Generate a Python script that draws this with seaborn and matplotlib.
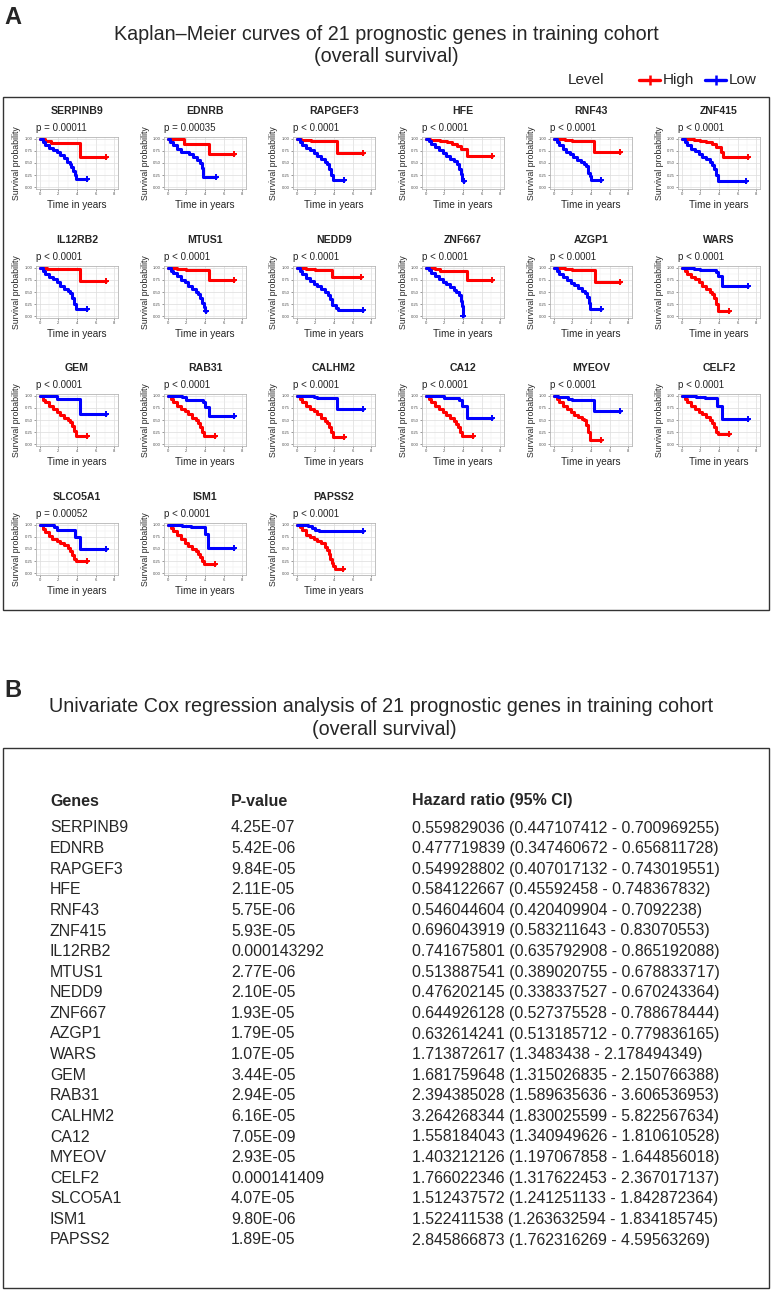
import matplotlib
matplotlib.use("Agg")
import matplotlib.pyplot as plt
import seaborn as sns
import pandas as pd
from matplotlib.lines import Line2D
from matplotlib.patches import Rectangle

# ---------------- data: panel A ----------------
genes = ["SERPINB9", "EDNRB", "RAPGEF3", "HFE", "RNF43", "ZNF415",
         "IL12RB2", "MTUS1", "NEDD9", "ZNF667", "AZGP1", "WARS",
         "GEM", "RAB31", "CALHM2", "CA12", "MYEOV", "CELF2",
         "SLCO5A1", "ISM1", "PAPSS2"]
km_pvalues = ["p = 0.00011", "p = 0.00035", "p < 0.0001", "p < 0.0001", "p < 0.0001", "p < 0.0001",
              "p < 0.0001", "p < 0.0001", "p < 0.0001", "p < 0.0001", "p < 0.0001", "p < 0.0001",
              "p < 0.0001", "p < 0.0001", "p < 0.0001", "p < 0.0001", "p < 0.0001", "p < 0.0001",
              "p = 0.00052", "p < 0.0001", "p < 0.0001"]
x_ticks = [0, 2, 4, 6, 8]
y_ticks = [0.0, 0.25, 0.5, 0.75, 1.0]
y_ticklabels = ["0.00", "0.25", "0.50", "0.75", "1.00"]

SERPINB9_high_t = [0, 0.6, 1.2, 4.35, 7.1]
SERPINB9_high_s = [1.0, 0.96, 0.92, 0.62, 0.62]
SERPINB9_low_t = [0, 0.3, 0.6, 1.0, 1.4, 1.8, 2.2, 2.6, 2.9, 3.2, 3.4, 3.6, 3.75, 3.9, 5.1]
SERPINB9_low_s = [1.0, 0.93, 0.88, 0.82, 0.77, 0.72, 0.66, 0.60, 0.53, 0.48, 0.42, 0.33, 0.25, 0.16, 0.16]

EDNRB_high_t = [0, 1.7, 4.4, 7.1]
EDNRB_high_s = [1.0, 0.90, 0.68, 0.68]
EDNRB_low_t = [0, 0.25, 0.6, 1.0, 1.4, 2.3, 2.7, 3.1, 3.5, 3.65, 3.8, 5.2]
EDNRB_low_s = [1.0, 0.93, 0.87, 0.80, 0.72, 0.68, 0.62, 0.56, 0.50, 0.40, 0.20, 0.20]

RAPGEF3_high_t = [0, 0.5, 1.5, 4.3, 7.1]
RAPGEF3_high_s = [1.0, 0.98, 0.95, 0.71, 0.71]
RAPGEF3_low_t = [0, 0.3, 0.6, 1.0, 1.4, 1.8, 2.2, 2.6, 3.0, 3.3, 3.5, 3.7, 3.85, 5.1]
RAPGEF3_low_s = [1.0, 0.93, 0.88, 0.82, 0.76, 0.70, 0.65, 0.58, 0.52, 0.47, 0.38, 0.25, 0.14, 0.14]

HFE_high_t = [0, 0.5, 1.5, 2.3, 2.8, 3.4, 3.8, 4.4, 7.1]
HFE_high_s = [1.0, 0.98, 0.96, 0.93, 0.90, 0.86, 0.80, 0.65, 0.65]
HFE_low_t = [0, 0.3, 0.6, 1.0, 1.4, 1.8, 2.2, 2.6, 3.0, 3.4, 3.6, 3.75, 3.85, 3.95, 4.1]
HFE_low_s = [1.0, 0.95, 0.90, 0.83, 0.76, 0.70, 0.64, 0.58, 0.54, 0.47, 0.38, 0.28, 0.17, 0.12, 0.12]

RNF43_high_t = [0, 1.2, 2.0, 4.3, 7.1]
RNF43_high_s = [1.0, 0.98, 0.96, 0.73, 0.73]
RNF43_low_t = [0, 0.3, 0.6, 1.0, 1.3, 1.7, 2.1, 2.5, 2.9, 3.2, 3.5, 3.7, 3.85, 3.95, 5.1]
RNF43_low_s = [1.0, 0.93, 0.87, 0.80, 0.72, 0.68, 0.63, 0.57, 0.52, 0.47, 0.43, 0.30, 0.22, 0.14, 0.14]

ZNF415_high_t = [0, 1.3, 2.0, 2.6, 3.2, 3.7, 4.2, 4.4, 7.1]
ZNF415_high_s = [1.0, 0.98, 0.96, 0.93, 0.90, 0.84, 0.72, 0.62, 0.62]
ZNF415_low_t = [0, 0.3, 0.6, 1.0, 1.4, 1.8, 2.2, 2.6, 3.0, 3.3, 3.5, 3.7, 3.85, 6.9]
ZNF415_low_s = [1.0, 0.93, 0.87, 0.80, 0.74, 0.68, 0.63, 0.58, 0.53, 0.46, 0.38, 0.25, 0.13, 0.13]

IL12RB2_high_t = [0, 0.8, 1.5, 4.3, 7.1]
IL12RB2_high_s = [1.0, 0.98, 0.97, 0.73, 0.73]
IL12RB2_low_t = [0, 0.3, 0.6, 1.0, 1.4, 1.8, 2.2, 2.6, 3.0, 3.3, 3.5, 3.7, 3.85, 5.1]
IL12RB2_low_s = [1.0, 0.93, 0.88, 0.81, 0.76, 0.70, 0.63, 0.57, 0.52, 0.47, 0.38, 0.25, 0.15, 0.15]

MTUS1_high_t = [0, 1.0, 2.0, 4.4, 7.1]
MTUS1_high_s = [1.0, 0.97, 0.95, 0.75, 0.75]
MTUS1_low_t = [0, 0.3, 0.6, 1.0, 1.4, 1.8, 2.2, 2.6, 3.0, 3.3, 3.5, 3.7, 3.85, 3.95, 4.1]
MTUS1_low_s = [1.0, 0.94, 0.90, 0.84, 0.75, 0.70, 0.63, 0.57, 0.50, 0.45, 0.38, 0.28, 0.18, 0.10, 0.10]

NEDD9_high_t = [0, 1.0, 2.0, 3.8, 6.9]
NEDD9_high_s = [1.0, 0.98, 0.96, 0.81, 0.81]
NEDD9_low_t = [0, 0.3, 0.6, 1.0, 1.4, 1.8, 2.2, 2.6, 3.0, 3.4, 3.6, 3.8, 4.2, 4.4, 7.1]
NEDD9_low_s = [1.0, 0.93, 0.87, 0.80, 0.72, 0.67, 0.62, 0.56, 0.50, 0.44, 0.35, 0.22, 0.17, 0.13, 0.13]

ZNF667_high_t = [0, 1.0, 1.5, 4.4, 7.1]
ZNF667_high_s = [1.0, 0.97, 0.94, 0.75, 0.75]
ZNF667_low_t = [0, 0.3, 0.6, 1.0, 1.4, 1.8, 2.2, 2.6, 3.0, 3.3, 3.6, 3.75, 3.85, 3.95, 4.0]
ZNF667_low_s = [1.0, 0.95, 0.90, 0.84, 0.77, 0.71, 0.66, 0.60, 0.55, 0.50, 0.44, 0.32, 0.20, 0.08, 0.0]

AZGP1_high_t = [0, 1.2, 2.0, 4.4, 7.1]
AZGP1_high_s = [1.0, 0.97, 0.95, 0.71, 0.71]
AZGP1_low_t = [0, 0.3, 0.6, 1.0, 1.4, 1.8, 2.2, 2.6, 3.0, 3.4, 3.6, 3.75, 3.85, 5.1]
AZGP1_low_s = [1.0, 0.93, 0.87, 0.81, 0.74, 0.69, 0.64, 0.58, 0.53, 0.47, 0.40, 0.28, 0.15, 0.15]

WARS_high_t = [0, 0.3, 0.6, 1.0, 1.4, 1.8, 2.2, 2.6, 3.0, 3.3, 3.5, 3.7, 3.85, 5.1]
WARS_high_s = [1.0, 0.93, 0.88, 0.82, 0.76, 0.70, 0.63, 0.57, 0.50, 0.45, 0.38, 0.25, 0.11, 0.11]
WARS_low_t = [0, 1.3, 2.0, 3.7, 3.9, 4.3, 7.1]
WARS_low_s = [1.0, 0.98, 0.95, 0.92, 0.83, 0.62, 0.62]

GEM_high_t = [0, 0.3, 0.6, 1.0, 1.4, 1.8, 2.2, 2.6, 3.0, 3.3, 3.5, 3.7, 3.85, 5.1]
GEM_high_s = [1.0, 0.92, 0.87, 0.80, 0.72, 0.66, 0.61, 0.55, 0.50, 0.45, 0.38, 0.27, 0.16, 0.16]
GEM_low_t = [0, 1.8, 4.3, 7.1]
GEM_low_s = [1.0, 0.93, 0.63, 0.63]

RAB31_high_t = [0, 0.3, 0.6, 1.0, 1.4, 1.8, 2.2, 2.6, 3.0, 3.3, 3.5, 3.7, 3.85, 5.1]
RAB31_high_s = [1.0, 0.93, 0.87, 0.80, 0.72, 0.68, 0.62, 0.55, 0.49, 0.43, 0.35, 0.25, 0.17, 0.17]
RAB31_low_t = [0, 1.5, 2.0, 3.8, 4.0, 4.4, 7.1]
RAB31_low_s = [1.0, 0.97, 0.92, 0.88, 0.77, 0.58, 0.58]

CALHM2_high_t = [0, 0.3, 0.6, 1.0, 1.4, 1.8, 2.2, 2.6, 3.0, 3.3, 3.5, 3.7, 3.85, 5.1]
CALHM2_high_s = [1.0, 0.93, 0.87, 0.80, 0.73, 0.68, 0.62, 0.55, 0.48, 0.44, 0.35, 0.25, 0.14, 0.14]
CALHM2_low_t = [0, 1.8, 2.2, 4.3, 7.1]
CALHM2_low_s = [1.0, 0.97, 0.96, 0.72, 0.72]

CA12_high_t = [0, 0.3, 0.6, 1.0, 1.4, 1.8, 2.2, 2.6, 3.0, 3.3, 3.5, 3.7, 3.85, 5.1]
CA12_high_s = [1.0, 0.93, 0.87, 0.80, 0.73, 0.66, 0.60, 0.55, 0.48, 0.42, 0.35, 0.25, 0.17, 0.17]
CA12_low_t = [0, 2.0, 3.6, 3.9, 4.4, 7.1]
CA12_low_s = [1.0, 0.96, 0.92, 0.80, 0.55, 0.55]

MYEOV_high_t = [0, 0.3, 0.6, 1.0, 1.4, 1.8, 2.2, 2.6, 3.0, 3.3, 3.5, 3.7, 3.85, 5.1]
MYEOV_high_s = [1.0, 0.93, 0.87, 0.80, 0.73, 0.67, 0.61, 0.56, 0.53, 0.50, 0.40, 0.25, 0.09, 0.09]
MYEOV_low_t = [0, 0.5, 1.5, 2.0, 4.3, 7.1]
MYEOV_low_s = [1.0, 0.97, 0.93, 0.92, 0.68, 0.68]

CELF2_high_t = [0, 0.3, 0.6, 1.0, 1.4, 1.8, 2.2, 2.6, 3.0, 3.3, 3.5, 3.7, 3.85, 5.1]
CELF2_high_s = [1.0, 0.93, 0.87, 0.80, 0.72, 0.67, 0.62, 0.56, 0.50, 0.43, 0.35, 0.25, 0.21, 0.21]
CELF2_low_t = [0, 1.5, 2.5, 3.8, 4.3, 7.1]
CELF2_low_s = [1.0, 0.98, 0.96, 0.80, 0.53, 0.53]

SLCO5A1_high_t = [0, 0.3, 0.6, 1.0, 1.3, 1.8, 2.2, 2.6, 3.0, 3.3, 3.5, 3.7, 3.85, 5.1]
SLCO5A1_high_s = [1.0, 0.92, 0.85, 0.76, 0.70, 0.67, 0.63, 0.58, 0.52, 0.45, 0.38, 0.30, 0.25, 0.25]
SLCO5A1_low_t = [0, 1.5, 1.8, 3.8, 4.3, 7.1]
SLCO5A1_low_s = [1.0, 0.95, 0.90, 0.75, 0.50, 0.50]

ISM1_high_t = [0, 0.3, 0.6, 1.0, 1.4, 1.8, 2.2, 2.6, 3.0, 3.3, 3.5, 3.7, 3.85, 5.1]
ISM1_high_s = [1.0, 0.93, 0.87, 0.80, 0.70, 0.63, 0.57, 0.50, 0.45, 0.40, 0.33, 0.25, 0.19, 0.19]
ISM1_low_t = [0, 1.5, 2.5, 3.95, 4.3, 7.1]
ISM1_low_s = [1.0, 0.98, 0.96, 0.81, 0.53, 0.53]

PAPSS2_high_t = [0, 0.3, 0.6, 1.0, 1.4, 1.8, 2.2, 2.6, 3.0, 3.3, 3.5, 3.6, 3.75, 3.9, 4.1, 5.0]
PAPSS2_high_s = [1.0, 0.95, 0.90, 0.80, 0.74, 0.70, 0.67, 0.63, 0.55, 0.48, 0.40, 0.30, 0.20, 0.14, 0.08, 0.08]
PAPSS2_low_t = [0, 1.2, 1.6, 2.0, 2.4, 7.1]
PAPSS2_low_s = [1.0, 0.98, 0.94, 0.90, 0.87, 0.87]

# ---------------- data: panel B ----------------
cox_pvalues = ["4.25E-07", "5.42E-06", "9.84E-05", "2.11E-05", "5.75E-06", "5.93E-05",
               "0.000143292", "2.77E-06", "2.10E-05", "1.93E-05", "1.79E-05", "1.07E-05",
               "3.44E-05", "2.94E-05", "6.16E-05", "7.05E-09", "2.93E-05", "0.000141409",
               "4.07E-05", "9.80E-06", "1.89E-05"]
hazard_ratio = ["0.559829036", "0.477719839", "0.549928802", "0.584122667", "0.546044604", "0.696043919",
                "0.741675801", "0.513887541", "0.476202145", "0.644926128", "0.632614241", "1.713872617",
                "1.681759648", "2.394385028", "3.264268344", "1.558184043", "1.403212126", "1.766022346",
                "1.512437572", "1.522411538", "2.845866873"]
ci_lower = ["0.447107412", "0.347460672", "0.407017132", "0.45592458", "0.420409904", "0.583211643",
            "0.635792908", "0.389020755", "0.338337527", "0.527375528", "0.513185712", "1.3483438",
            "1.315026835", "1.589635636", "1.830025599", "1.340949626", "1.197067858", "1.317622453",
            "1.241251133", "1.263632594", "1.762316269"]
ci_upper = ["0.700969255", "0.656811728", "0.743019551", "0.748367832", "0.7092238", "0.83070553",
            "0.865192088", "0.678833717", "0.670243364", "0.788678444", "0.779836165", "2.178494349",
            "2.150766388", "3.606536953", "5.822567634", "1.810610528", "1.644856018", "2.367017137",
            "1.842872364", "1.834185745", "4.59563269"]

# ---------------- figure ----------------
sns.set_theme(style="white")
plt.rcParams["font.family"] = ["Liberation Sans", "DejaVu Sans"]

W, H = 772, 1304
fig = plt.figure(figsize=(W / 100, H / 100), dpi=100)
fig.patch.set_facecolor("white")

RED, BLUE = "#FF0000", "#0000FF"


def fx(px):
    return px / W


def fy(py):
    return 1 - py / H


# panel letters and titles
fig.text(fx(4), fy(18), "A", fontsize=17, fontweight="bold", va="center", ha="left")
fig.text(fx(386), fy(35), "Kaplan\u2013Meier curves of 21 prognostic genes in training cohort",
         fontsize=14.2, ha="center", va="center")
fig.text(fx(386), fy(57), "(overall survival)", fontsize=14.2, ha="center", va="center")

# legend
fig.text(fx(568), fy(80), "Level", fontsize=11, ha="left", va="center")
for x0, col, lab in [(639, RED, "High"), (705, BLUE, "Low")]:
    fig.add_artist(Line2D([fx(x0), fx(x0 + 21)], [fy(80), fy(80)], color=col, lw=2.4,
                          transform=fig.transFigure))
    fig.add_artist(Line2D([fx(x0 + 10.5)], [fy(80)], color=col, marker="+", ms=7, mew=1.8,
                          transform=fig.transFigure))
    fig.text(fx(x0 + 24), fy(80), lab, fontsize=11, ha="left", va="center")

# frames
fig.add_artist(Rectangle((fx(3), fy(610)), fx(766), 513 / H, fill=False, ec="#333333", lw=1.0,
                         transform=fig.transFigure))
fig.add_artist(Rectangle((fx(3), fy(1288)), fx(766), 540 / H, fill=False, ec="#333333", lw=1.0,
                         transform=fig.transFigure))

col_left = [36, 164, 293, 422, 550, 678]
row_top = [137, 266, 394, 523]
AW, AH = 82, 52

for i, g in enumerate(genes):
    r, c = divmod(i, 6)
    L, T = col_left[c], row_top[r]
    ax = fig.add_axes([fx(L), fy(T + AH), AW / W, AH / H])
    ax.set_facecolor("white")
    for key, colr in [("high", RED), ("low", BLUE)]:
        t = globals()[f"{g}_{key}_t"]
        s = globals()[f"{g}_{key}_s"]
        df = pd.DataFrame({"time": t, "surv": s})
        sns.lineplot(data=df, x="time", y="surv", ax=ax, color=colr, lw=2.2,
                     drawstyle="steps-post", estimator=None, sort=False, legend=False)
        ax.plot(t[-1], s[-1], marker="+", color=colr, ms=4, mew=1.4)
    ax.set_xlim(-0.4, 8.4)
    ax.set_ylim(-0.04, 1.04)
    ax.set_xticks(x_ticks)
    ax.set_xticklabels([str(v) for v in x_ticks])
    ax.set_yticks(y_ticks)
    ax.set_yticklabels(y_ticklabels)
    ax.set_xticks([1, 3, 5, 7], minor=True)
    ax.set_yticks([0.125, 0.375, 0.625, 0.875], minor=True)
    ax.grid(which="major", color="#dcdcdc", lw=0.5)
    ax.grid(which="minor", color="#eeeeee", lw=0.35)
    ax.set_axisbelow(True)
    ax.tick_params(which="major", labelsize=3, length=1.5, width=0.4, pad=0.8,
                   colors="#4d4d4d", left=True, bottom=True)
    ax.tick_params(which="minor", length=0)
    for sp in ax.spines.values():
        sp.set_color("#b5b5b5")
        sp.set_linewidth(0.6)
    ax.set_xlabel("")
    ax.set_ylabel("")
    fig.text(fx(L + AW / 2), fy(T - 26), g, fontsize=7.6, fontweight="bold", ha="center", va="center")
    fig.text(fx(L), fy(T - 9), km_pvalues[i], fontsize=7, ha="left", va="center")
    fig.text(fx(L + AW / 2), fy(T + AH + 16), "Time in years", fontsize=7.2, ha="center", va="center")
    fig.text(fx(L - 19), fy(T + AH / 2), "Survival probability", fontsize=6.3, ha="center",
             va="center", rotation=90)

# ---------------- panel B ----------------
fig.text(fx(4), fy(690), "B", fontsize=17, fontweight="bold", va="center", ha="left")
fig.text(fx(381), fy(706), "Univariate Cox regression analysis of 21 prognostic genes in training cohort",
         fontsize=14.2, ha="center", va="center")
fig.text(fx(384), fy(729), "(overall survival)", fontsize=14.2, ha="center", va="center")

fig.text(fx(50), fy(801), "Genes", fontsize=11.5, fontweight="bold", ha="left", va="center")
fig.text(fx(231), fy(801), "P-value", fontsize=11.5, fontweight="bold", ha="left", va="center")
fig.text(fx(412), fy(801), "Hazard ratio (95% CI)", fontsize=11.5, fontweight="bold", ha="left", va="center")
for i, g in enumerate(genes):
    y = 828 + i * 20.6
    fig.text(fx(50), fy(y), g, fontsize=11.4, ha="left", va="center")
    fig.text(fx(231), fy(y), cox_pvalues[i], fontsize=11.4, ha="left", va="center")
    fig.text(fx(412), fy(y), f"{hazard_ratio[i]} ({ci_lower[i]} - {ci_upper[i]})",
             fontsize=11.4, ha="left", va="center")

fig.savefig("out.png", dpi=100, facecolor="white")
